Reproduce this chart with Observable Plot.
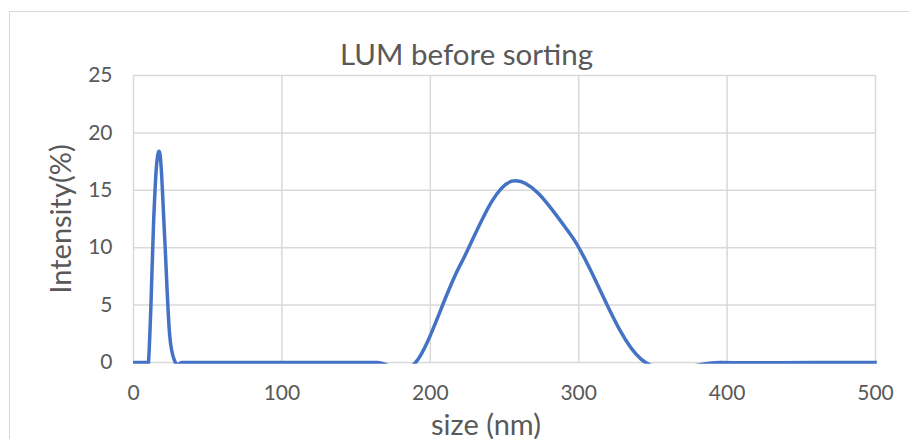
<!DOCTYPE html>
<html><head><meta charset="utf-8">
<script src="https://cdn.jsdelivr.net/npm/d3@7"></script>
<script src="https://cdn.jsdelivr.net/npm/@observablehq/plot@0.6"></script>
<style>
html,body{margin:0;padding:0;background:#fff;overflow:hidden;}
#wrap{position:relative;width:909px;height:439px;}
#frame{position:absolute;left:9px;top:11px;width:1000px;height:1000px;border:1px solid #d9d9d9;box-sizing:border-box;pointer-events:none;}
#wrap svg{position:absolute;left:0;top:0;display:block;}
</style></head>
<body><div id="wrap"><div id="frame"></div></div>
<script>
const titleText = "LUM before sorting";
const xLabel = "size (nm)";
const yLabel = "Intensity(%)";
const xTicks = [0, 100, 200, 300, 400, 500];
const yTicks = [0, 5, 10, 15, 20, 25];

// size bins (nm) and intensity (%)
const sizeNm = [0.4, 0.4632, 0.5365, 0.6213, 0.7195, 0.8332, 0.9649, 1.117, 1.294, 1.499,
  1.736, 2.01, 2.328, 2.696, 3.122, 3.615, 4.187, 4.849, 5.615, 6.503,
  7.531, 8.721, 10.1, 11.7, 13.54, 15.69, 18.17, 21.04, 24.36, 28.21,
  32.67, 37.84, 43.82, 50.75, 58.77, 68.06, 78.82, 91.28, 105.7, 122.4,
  141.8, 164.2, 190.1, 220.2, 255.0, 295.3, 342.0, 396.1, 458.7, 531.2];
const intensity = [0, 0, 0, 0, 0, 0, 0, 0, 0, 0,
  0, 0, 0, 0, 0, 0, 0, 0, 0, 0,
  0, 0, 0, 4.8, 12.2, 17.4, 17.8, 10.8, 2.4, 0,
  0, 0, 0, 0, 0, 0, 0, 0, 0, 0,
  0, 0, 0, 8.5, 15.8, 11.0, 0.3, 0, 0, 0];

const data = sizeNm.map((s, i) => ({size: s, intensity: intensity[i]}));

const textColor = "#595959";
const gridColor = "#d9d9d9";
const font = "Lato, 'Open Sans', sans-serif";

const chart = Plot.plot({
  width: 909,
  height: 439,
  marginLeft: 133,
  marginRight: 34,
  marginTop: 75,
  marginBottom: 77,
  style: {fontFamily: font, color: textColor, background: "transparent"},
  x: {domain: [0, 500]},
  y: {domain: [0, 25]},
  marks: [
    Plot.gridX(xTicks, {stroke: gridColor, strokeOpacity: 1, strokeWidth: 1.5}),
    Plot.gridY(yTicks, {stroke: gridColor, strokeOpacity: 1, strokeWidth: 1.5}),
    Plot.axisX(xTicks, {tickSize: 0, tickPadding: 23, fontSize: 21, label: null, fill: textColor}),
    Plot.axisY(yTicks, {tickSize: 0, tickPadding: 21, fontSize: 21, label: null, fill: textColor}),
    Plot.line(data, {x: "size", y: "intensity", stroke: "#4472C4", strokeWidth: 3.5, curve: "cardinal", clip: true}),
    Plot.text([titleText], {frameAnchor: "top", dx: -38, dy: -11, lineAnchor: "bottom", fontSize: 29.5, fill: textColor}),
    Plot.text([xLabel], {frameAnchor: "bottom", dx: -18.5, dy: 72, lineAnchor: "bottom", fontSize: 29, fill: textColor}),
    Plot.text([yLabel], {frameAnchor: "left", textAnchor: "middle", dx: -63, rotate: -90, lineAnchor: "bottom", fontSize: 29, fill: textColor})
  ]
});
// let the clipped line keep its full stroke at the frame edges
chart.querySelectorAll("clipPath rect").forEach(r => {
  const y = +r.getAttribute("y");
  const w = +r.getAttribute("width"), h = +r.getAttribute("height");
  r.setAttribute("y", y - 2);
  r.setAttribute("width", w + 1.8);
  r.setAttribute("height", h + 3.8);
});
document.getElementById("wrap").appendChild(chart);
</script>
</body></html>
